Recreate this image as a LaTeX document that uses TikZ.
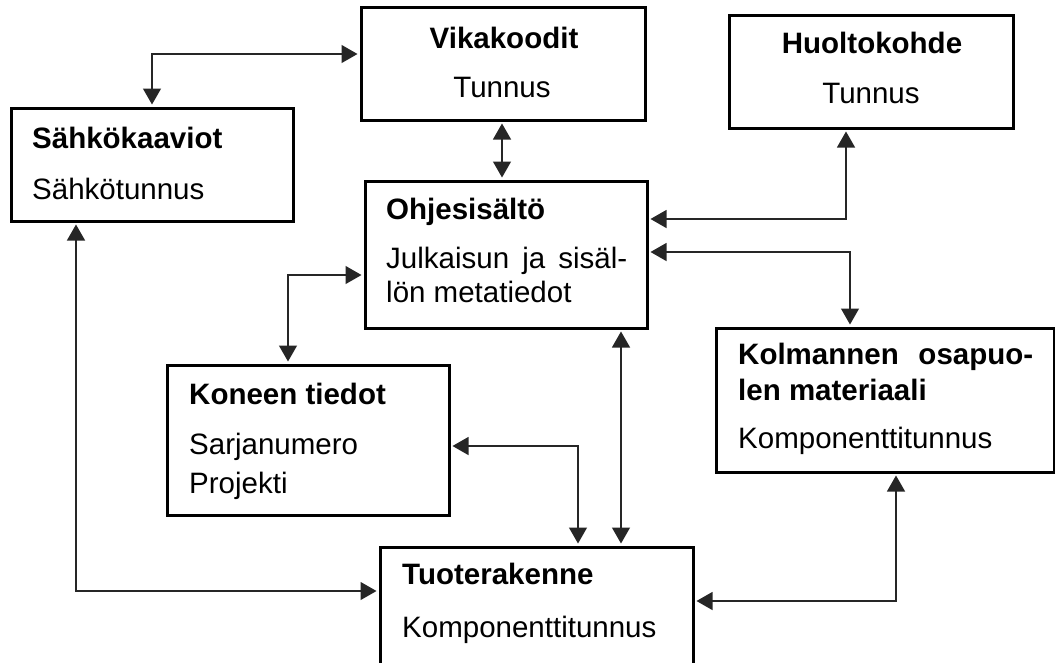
\documentclass[tikz,border=0pt]{standalone}
\usepackage{fontspec}
\setmainfont{Liberation Sans}
\usetikzlibrary{arrows.meta}
\tikzset{
  box/.style={draw=black, line width=3pt, rectangle, inner sep=0pt},
  txt/.style={inner sep=0pt, anchor=base west, font=\fontsize{29.5}{34}\selectfont},
  ttl/.style={txt, font=\fontsize{29.5}{34}\selectfont\bfseries},
  tip/.tip={Triangle[length=16pt,width=18pt]},
  link/.style={line width=1.2pt, draw=black!85, tip-tip, shorten >=2pt, shorten <=2pt}
}
\begin{document}
\begin{tikzpicture}[x=1pt,y=-1pt]
\useasboundingbox (0,0) rectangle (1055,662);
\clip (0,0) rectangle (1055,662);
% boxes
\node[box, minimum width=284pt, minimum height=113pt] (vika) at (503,63.5) {};
\node[box, minimum width=282pt, minimum height=113pt] (sahko) at (152,164.5) {};
\node[box, minimum width=282pt, minimum height=147pt] (ohje) at (506,254.5) {};
\node[box, minimum width=284pt, minimum height=113pt] (huolto) at (871,71.5) {};
\node[box, minimum width=338pt, minimum height=144pt] (kolm) at (885,400) {};
\node[box, minimum width=282pt, minimum height=150pt] (kone) at (308,440) {};
\node[box, minimum width=313pt, minimum height=160pt] (tuote) at (536.5,627) {};
% texts
\node[ttl, anchor=base] (vikat) at (504,48) {Vikakoodit};
\node[txt, anchor=base] (vikas) at (502,97) {Tunnus};
\node[ttl, anchor=base] (huoltot) at (872,53) {Huoltokohde};
\node[txt, anchor=base] (huoltos) at (871,103) {Tunnus};
\node[ttl] (sahkot) at (32,148) {Sähkökaaviot};
\node[txt] (sahkos) at (32,199) {Sähkötunnus};
\node[ttl] (ohjet) at (386,219) {Ohjesisältö};
\node[txt] (ohjes1) at (386,268) {\makebox[241pt][s]{Julkaisun ja sisäl-}};
\node[txt] (ohjes2) at (386,302) {lön metatiedot};
\node[ttl] (konet) at (189,404) {Koneen tiedot};
\node[txt] (kones1) at (189,454) {Sarjanumero};
\node[txt] (kones2) at (189,493) {Projekti};
\node[ttl] (kolmt1) at (738,364) {\makebox[295pt][s]{Kolmannen osapuo-}};
\node[ttl] (kolmt2) at (738,400) {len materiaali};
\node[txt] (kolms) at (738,448) {Komponenttitunnus};
\node[ttl] (tuotet) at (402,584) {Tuoterakenne};
\node[txt] (tuotes) at (402,637) {Komponenttitunnus};
% bend coordinates
\coordinate (b1) at (152,54);
\coordinate (b2) at (502,0);
\coordinate (b3) at (846,219);
\coordinate (b4) at (850,252);
\coordinate (b5) at (288,275);
\coordinate (b6) at (578,446);
\coordinate (b7) at (621,0);
\coordinate (b8) at (76,591);
\coordinate (b9) at (896,601);
% connectors
\draw[link] (sahko.north -| b1) |- (vika.west |- b1);
\draw[link] (vika.south -| b2) -- (ohje.north -| b2);
\draw[link] (huolto.south -| b3) |- (ohje.east |- b3);
\draw[link] (ohje.east |- b4) -| (kolm.north -| b4);
\draw[link] (ohje.west |- b5) -| (kone.north -| b5);
\draw[link] (kone.east |- b6) -| (tuote.north -| b6);
\draw[link] (ohje.south -| b7) -- (tuote.north -| b7);
\draw[link] (sahko.south -| b8) |- (tuote.west |- b8);
\draw[link] (kolm.south -| b9) |- (tuote.east |- b9);
\end{tikzpicture}
\end{document}
